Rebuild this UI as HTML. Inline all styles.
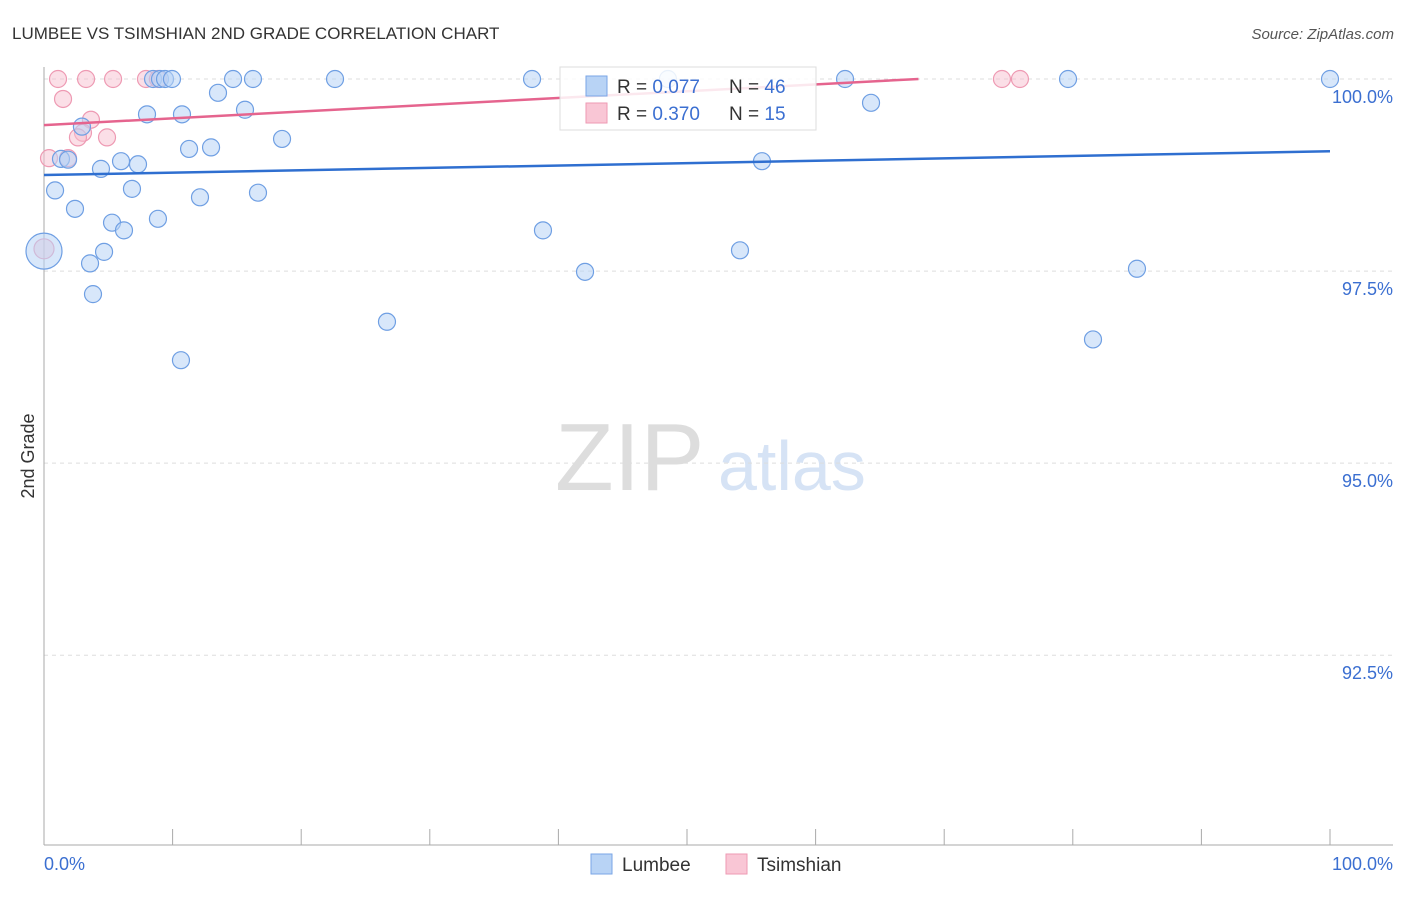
<!DOCTYPE html>
<html><head><meta charset="utf-8"><style>
body{margin:0;background:#fff;font-family:"Liberation Sans",sans-serif}
svg text{font-family:"Liberation Sans",sans-serif}
</style></head><body>
<svg width="1406" height="892" viewBox="0 0 1406 892">
<text x="12" y="39" font-size="17" fill="#333">LUMBEE VS TSIMSHIAN 2ND GRADE CORRELATION CHART</text>
<text x="1394" y="39" font-size="15" fill="#555" text-anchor="end" font-style="italic">Source: ZipAtlas.com</text>
<text x="555" y="490" font-size="96" fill="#ddd" font-family="Liberation Serif,serif">ZIP</text>
<text x="718" y="490" font-size="70" fill="#d6e3f5">atlas</text>
<text transform="translate(34,456) rotate(-90)" font-size="18" fill="#333" text-anchor="middle">2nd Grade</text>
<g id="grid"></g><g id="axes"></g><g id="pts"></g><g id="trend"></g>
<g>
<rect x="560" y="67" width="256" height="63" fill="#fff" fill-opacity="0.85" stroke="#ddd"/>
<rect x="586" y="76" width="21" height="20" fill="#b8d3f5" stroke="#7aa6e6"/>
<rect x="586" y="103" width="21" height="20" fill="#f9c6d5" stroke="#ee9ab3"/>
<text x="617" y="93" font-size="19" fill="#333">R = <tspan fill="#3b6fd1">0.077</tspan></text>
<text x="729" y="93" font-size="19" fill="#333">N = <tspan fill="#3b6fd1">46</tspan></text>
<text x="617" y="120" font-size="19" fill="#333">R = <tspan fill="#3b6fd1">0.370</tspan></text>
<text x="729" y="120" font-size="19" fill="#333">N = <tspan fill="#3b6fd1"> 15</tspan></text>
</g>
<g>
<rect x="591" y="854" width="21" height="20" fill="#b8d3f5" stroke="#7aa6e6"/>
<text x="622" y="871" font-size="19" fill="#333">Lumbee</text>
<rect x="726" y="854" width="21" height="20" fill="#f9c6d5" stroke="#ee9ab3"/>
<text x="757" y="871" font-size="19" fill="#333">Tsimshian</text>
</g>
<text x="44" y="870" font-size="18" fill="#3b6fd1">0.0%</text>
<text x="1393" y="870" font-size="18" fill="#3b6fd1" text-anchor="end">100.0%</text>
</svg>
<script>
const yTicks=[100,97.5,95,92.5];
const yTickLabels=["100.0%","97.5%","95.0%","92.5%"];
const xTicks=[0,10,20,30,40,50,60,70,80,90,100];
const blueX=[8.48,9.02,9.41,9.95,14.70,16.25,22.63,37.95,62.29,79.63,100,48.52,13.53,15.63,8.01,10.73,64.31,2.95,18.51,11.28,12.99,1.32,1.87,5.99,7.31,4.43,55.83,0.86,6.84,12.13,16.64,2.41,5.29,8.86,6.22,38.80,4.67,54.12,3.58,42.07,84.99,3.81,26.67,10.65,81.57,0];
const blueY=[100,100,100,100,100,100,100,100,100,100,100,100,99.82,99.60,99.54,99.54,99.69,99.38,99.22,99.09,99.11,98.96,98.95,98.93,98.89,98.83,98.93,98.55,98.57,98.46,98.52,98.31,98.13,98.18,98.03,98.03,97.75,97.77,97.60,97.49,97.53,97.20,96.84,96.34,96.61,97.76];
const pinkX=[1.09,3.27,5.37,7.93,8.86,74.49,75.89,1.48,3.65,3.03,2.64,4.90,0.39,1.87,0];
const pinkY=[100,100,100,100,100,100,100,99.74,99.47,99.30,99.24,99.24,98.97,98.97,97.79];
const blueTrend=[[0,98.75],[100,99.06]];
const pinkTrend=[[0,99.40],[68,100]];
const X0=44,X1=1330,YTOP=79,YBOT=845,YMIN=90.03,YMAX=100;
const sx=v=>X0+(v-X0*0)*(X1-X0)/100;
const sy=v=>YTOP+(YMAX-v)*(YBOT-YTOP)/(YMAX-YMIN);
const NS="http://www.w3.org/2000/svg";
function mk(t,a,p){const e=document.createElementNS(NS,t);for(const k in a)e.setAttribute(k,a[k]);p.appendChild(e);return e;}
const grid=document.getElementById('grid'),axes=document.getElementById('axes'),pts=document.getElementById('pts'),tr=document.getElementById('trend');
yTicks.forEach((v,i)=>{
const l=mk('line',{x1:X0,x2:1393,y1:sy(v),y2:sy(v),stroke:'#ddd','stroke-dasharray':'4,4'},grid);


const t=mk('text',{x:1393,y:sy(v)+24,'font-size':18,fill:'#3b6fd1','text-anchor':'end'},grid);
t.textContent=yTickLabels[i];


});
const ya=mk('line',{x1:X0,x2:X0,y1:67,y2:YBOT,stroke:'#aaa'},axes);


const xa=mk('line',{x1:X0,x2:1393,y1:YBOT,y2:YBOT,stroke:'#aaa'},axes);


xTicks.forEach(v=>{
const t=mk('line',{x1:sx(v),x2:sx(v),y1:829,y2:YBOT,stroke:'#aaa'},axes);


});
pinkX.forEach((x,i)=>{
const c=mk('circle',{cx:sx(x),cy:sy(pinkY[i]),r:i===pinkX.length-1?10:8.5,fill:'#f7bfd0','fill-opacity':0.5,stroke:'#ee9ab3','stroke-width':1.2},pts);


});
blueX.forEach((x,i)=>{
const c=mk('circle',{cx:sx(x),cy:sy(blueY[i]),r:i===blueX.length-1?18:8.5,fill:'#b8d3f5','fill-opacity':0.55,stroke:'#6f9fe3','stroke-width':1.2},pts);


});
const bl=mk('line',{x1:sx(blueTrend[0][0]),y1:sy(blueTrend[0][1]),x2:sx(blueTrend[1][0]),y2:sy(blueTrend[1][1]),stroke:'#2f6fd0','stroke-width':2.5},tr);


const pl=mk('line',{x1:sx(pinkTrend[0][0]),y1:sy(pinkTrend[0][1]),x2:sx(pinkTrend[1][0]),y2:sy(pinkTrend[1][1]),stroke:'#e5648e','stroke-width':2.5},tr);


</script>
</body></html>
